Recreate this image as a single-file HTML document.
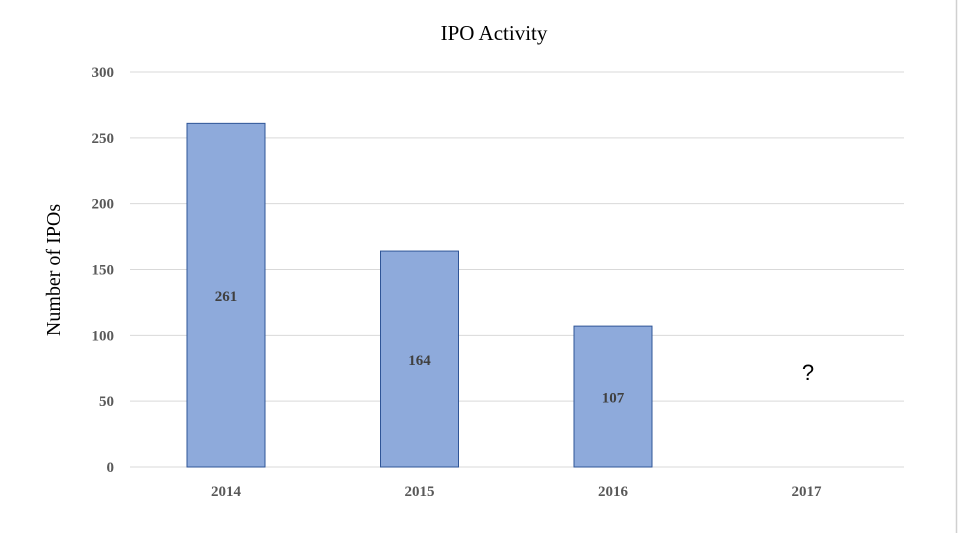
<!DOCTYPE html>
<html><head><meta charset="utf-8"><style>
body{margin:0;background:#fff}
svg{display:block}
</style></head><body>
<svg width="958" height="533" viewBox="0 0 958 533" font-family="Liberation Serif, serif">
<rect x="0" y="0" width="958" height="533" fill="#fff"/>
<line x1="956.5" y1="0" x2="956.5" y2="533" stroke="#d0d0d0" stroke-width="1.5"/>
<text x="494" y="40" text-anchor="middle" font-size="21" fill="#000">IPO Activity</text>
<text transform="translate(60,270) rotate(-90)" text-anchor="middle" font-size="20" fill="#000">Number of IPOs</text>
<g id="grid"></g><g id="bars"></g><g id="labels"></g>
<text x="808" y="380" text-anchor="middle" font-size="22" font-family="Liberation Sans, sans-serif" fill="#000">?</text>
</svg>
<script>
const categories=["2014","2015","2016","2017"];
const values=[261,164,107,null];
const yTicks=[0,50,100,150,200,250,300];
const NS="http://www.w3.org/2000/svg";
const x0=130,x1=904,y0=467,y1=72,yMax=300;
const y=v=>y0-(v/yMax)*(y0-y1);
const band=(x1-x0)/categories.length;
const xc=i=>x0+band*(i+0.5)-x0*0+ (226-(x0+band*0.5));
function mk(t,a){const e=document.createElementNS(NS,t);for(const k in a)e.setAttribute(k,a[k]);return e;}
const grid=document.getElementById('grid'),bars=document.getElementById('bars'),labels=document.getElementById('labels');
yTicks.forEach(t=>{
  const l=mk('line',{x1:x0,x2:x1,y1:y(t),y2:y(t),stroke:'#d9d9d9','stroke-width':1});
  
  
  grid.appendChild(l);
  const tx=mk('text',{x:114,y:y(t)+5,'text-anchor':'end','font-size':15,'font-weight':'bold',fill:'#595959'});
  tx.textContent=t;
  
  
  grid.appendChild(tx);
});
categories.forEach((c,i)=>{
  const cx=xc(i);
  const tx=mk('text',{x:cx,y:496,'text-anchor':'middle','font-size':15,'font-weight':'bold',fill:'#595959'});
  tx.textContent=c;
  
  
  labels.appendChild(tx);
  const v=values[i];
  if(v==null)return;
  const w=78;
  const r=mk('rect',{x:cx-w/2,y:y(v),width:w,height:y0-y(v),fill:'#8eaadb',stroke:'#2f5597','stroke-width':1});
  
  
  bars.appendChild(r);
  const vl=mk('text',{x:cx,y:(y(v)+y0)/2+6,'text-anchor':'middle','font-size':15,'font-weight':'bold',fill:'#404040'});
  vl.textContent=v;
  
  
  labels.appendChild(vl);
});
</script>
</body></html>
